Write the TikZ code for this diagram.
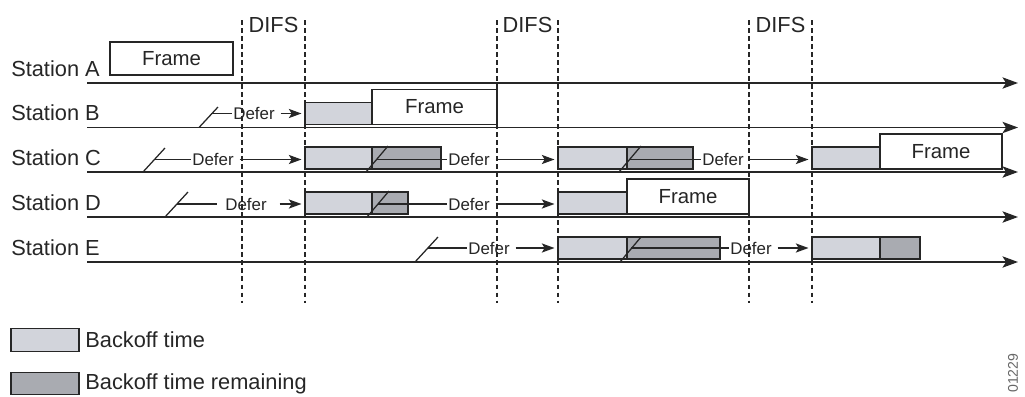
\documentclass[tikz,border=0pt]{standalone}
\usepackage{fontspec}
\setmainfont{Liberation Sans}
\usetikzlibrary{arrows.meta,positioning}
\definecolor{ink}{HTML}{262626}
\definecolor{backoffcol}{HTML}{D2D4DB}
\definecolor{remaincol}{HTML}{A9ABB1}
\newdimen\pxu
\pxu=0.025cm

\begin{document}
\begin{tikzpicture}[x=0.025cm, y=-0.025cm, font=\fontsize{15.5}{18}\selectfont, text=ink,
  timeline/.style={draw=ink, line width=1.4pt, -{Stealth[length=11pt,width=8pt,inset=2.5pt]}},
  difs/.style={draw=ink, line width=1pt, dash pattern=on 3.5pt off 2.2pt},
  slot/.style={draw=ink, line width=1.2pt, inner sep=0pt, outer sep=0pt, anchor=south west},
  boxsize/.style 2 args={minimum width=#1*\pxu, minimum height=#2*\pxu},
  backoff/.style={slot, fill=backoffcol},
  remain/.style={slot, fill=remaincol},
  frame/.style={slot, fill=white, font=\fontsize{14.5}{17}\selectfont},
  defer/.style={font=\fontsize{12}{14}\selectfont, inner sep=1pt},
  deferline/.style={draw=ink, line width=0.9pt},
  deferarrow/.style={deferline, shorten <=3pt, shorten >=2.5pt, -{Stealth[length=9pt,width=6.5pt,inset=2pt]}}
]
\useasboundingbox (0,0) rectangle (1025,396);

% DIFS windows
\foreach \xa/\xb [count=\k] in {242/305, 497/558, 749/812} {
  \draw[difs] (\xa,20) -- (\xa,303);
  \draw[difs] (\xb,20) -- (\xb,303);
  \node (difs\k) at ({(\xa+\xb)/2},25) {DIFS};
}

% one time line per station
\foreach \s/\y in {A/83, B/127.5, C/172, D/217, E/262} {
  \node[anchor=base west, inner sep=0pt] (st\s) at (11,\y-7) {Station \s};
  \coordinate (t0\s) at (87,\y);
  \coordinate (t1\s) at (1018,\y);
  \draw[timeline] (t0\s) -- (t1\s);
}

% station A
\node[frame, boxsize={123}{33}] (frA) at (110,75) {Frame};

% station B
\node[backoff, boxsize={67}{22}] (boB) at (305,124.5) {};
\node[frame, boxsize={125}{35}] (frB) at (boB.south east) {Frame};

% station C
\node[backoff, boxsize={67}{22}] (boC1) at (305,169) {};
\node[remain, boxsize={69}{22}] (reC1) at (boC1.south east) {};
\node[backoff, boxsize={69}{22}] (boC2) at (558,169) {};
\node[remain, boxsize={66}{22}] (reC2) at (boC2.south east) {};
\node[backoff, boxsize={68}{22}] (boC3) at (812,169) {};
\node[frame, boxsize={122}{35}] (frC) at (boC3.south east) {Frame};

% station D
\node[backoff, boxsize={67}{22}] (boD1) at (305,214) {};
\node[remain, boxsize={36}{22}] (reD1) at (boD1.south east) {};
\node[backoff, boxsize={69}{22}] (boD2) at (558,214) {};
\node[frame, boxsize={122}{35}] (frD) at (boD2.south east) {Frame};

% station E
\node[backoff, boxsize={69}{22}] (boE1) at (558,259) {};
\node[remain, boxsize={93}{22}] (reE1) at (boE1.south east) {};
\node[backoff, boxsize={68}{22}] (boE2) at (812,259) {};
\node[remain, boxsize={40}{22}] (reE2) at (boE2.south east) {};

% defer marks: slash, line, label, arrow
\draw[deferline] (199,127.5) -- (218,107);
\coordinate (kB) at (211,113.5);
\node[defer] (dB) at (254,113.5) {Defer};
\draw[deferline] (kB) -- (dB.west);
\draw[deferarrow] (dB.east) -- (dB.east -| boB.west);

\draw[deferline] (143,172) -- (165,148);
\coordinate (kC1) at (154,159.5);
\node[defer] (dC1) at (213,159.5) {Defer};
\draw[deferline] (kC1) -- (dC1.west);
\draw[deferarrow] (dC1.east) -- (dC1.east -| boC1.west);

\draw[deferline] (366,172) -- (388,146);
\coordinate (kC2) at (376,159.5);
\node[defer] (dC2) at (469,159.5) {Defer};
\draw[deferline] (kC2) -- (dC2.west);
\draw[deferarrow] (dC2.east) -- (dC2.east -| boC2.west);

\draw[deferline] (619,172) -- (641,146);
\coordinate (kC3) at (629,159.5);
\node[defer] (dC3) at (723,159.5) {Defer};
\draw[deferline] (kC3) -- (dC3.west);
\draw[deferarrow] (dC3.east) -- (dC3.east -| boC3.west);

\draw[deferline] (165,217) -- (188,192);
\coordinate (kD1) at (177,204);
\node[defer, inner xsep=6pt] (dD1) at (246,204) {Defer};
\draw[deferline] (kD1) -- (dD1.west);
\draw[deferarrow] (dD1.east) -- (dD1.east -| boD1.west);

\draw[deferline] (367,217) -- (389,191);
\coordinate (kD2) at (378,204);
\node[defer] (dD2) at (469,204) {Defer};
\draw[deferline] (kD2) -- (dD2.west);
\draw[deferarrow] (dD2.east) -- (dD2.east -| boD2.west);

\draw[deferline] (415,262) -- (438,237);
\coordinate (kE1) at (428,248);
\node[defer] (dE1) at (489,248) {Defer};
\draw[deferline] (kE1) -- (dE1.west);
\draw[deferarrow] (dE1.east) -- (dE1.east -| boE1.west);

\draw[deferline] (620,262) -- (641,237);
\coordinate (kE2) at (631,248);
\node[defer] (dE2) at (751,248) {Defer};
\draw[deferline] (kE2) -- (dE2.west);
\draw[deferarrow] (dE2.east) -- (dE2.east -| boE2.west);

% legend
\node[backoff, boxsize={68}{23}] (lgA) at (11,351.5) {};
\node[right=1pt of lgA] (lgAt) {Backoff time};
\node[remain, boxsize={68}{22}] (lgB) at (11,394.5) {};
\node[right=1pt of lgB] (lgBt) {Backoff time remaining};

\node[rotate=90, anchor=west, inner sep=0pt, font=\fontsize{10}{12}\selectfont, text=ink!70] (figid) at (1013,393) {01229};
\end{tikzpicture}
\end{document}
